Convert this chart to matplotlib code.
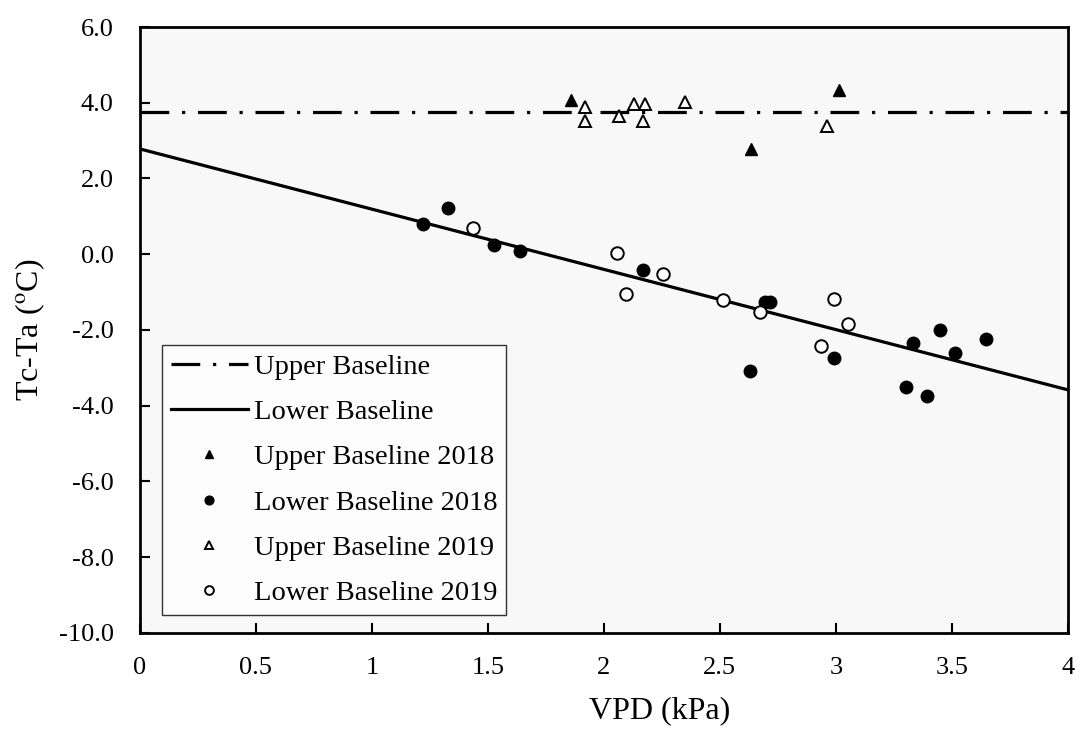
import numpy as np
import matplotlib
matplotlib.use("Agg")
from matplotlib import pyplot as plt

plt.rcParams['font.family'] = ['Liberation Serif', 'DejaVu Serif']
plt.rcParams['mathtext.fontset'] = 'stix'

# Upper baseline (non-transpiring) and lower baseline (well-watered) fits
upper_baseline = 3.75
lower_intercept = 2.78
lower_slope = -1.59

# 2018 observations
vpd_upper_2018 = [1.86, 3.015, 2.635]
dt_upper_2018 = [4.08, 4.33, 2.79]
vpd_lower_2018 = [1.22, 1.326, 1.528, 1.64, 2.167, 2.697, 2.715, 2.63, 2.993,
                  3.333, 3.448, 3.516, 3.648, 3.305, 3.394]
dt_lower_2018 = [0.79, 1.23, 0.24, 0.08, -0.42, -1.27, -1.27, -3.09, -2.73,
                 -2.34, -1.99, -2.60, -2.25, -3.50, -3.75]

# 2019 observations
vpd_upper_2019 = [1.917, 1.917, 2.064, 2.129, 2.179, 2.169, 2.349, 2.961]
dt_upper_2019 = [3.90, 3.51, 3.64, 3.96, 3.96, 3.51, 4.02, 3.38]
vpd_lower_2019 = [1.435, 2.056, 2.094, 2.255, 2.515, 2.672, 2.993, 3.053, 2.937]
dt_lower_2019 = [0.69, 0.02, -1.06, -0.53, -1.20, -1.52, -1.17, -1.85, -2.43]

x_ticks = [0, 0.5, 1, 1.5, 2, 2.5, 3, 3.5, 4]
x_tick_labels = ['0', '0.5', '1', '1.5', '2', '2.5', '3', '3.5', '4']
y_ticks = [-10, -8, -6, -4, -2, 0, 2, 4, 6]

fig = plt.figure(figsize=(10.8, 7.3), dpi=100)
ax = fig.add_axes([0.1296, 0.133, 0.859, 0.830])
ax.set_facecolor('#f8f8f8')

xl = np.array([0, 4])
ax.plot(xl, [upper_baseline, upper_baseline], color='black', lw=2.3,
        dashes=(9, 4, 1, 4), dash_capstyle='butt', label='Upper Baseline')
ax.plot(xl, lower_intercept + lower_slope * xl, color='black', lw=2.3,
        label='Lower Baseline')

ax.plot(vpd_upper_2018, dt_upper_2018, '^', color='black', ms=8.5,
        ls='none', label='Upper Baseline 2018')
ax.plot(vpd_lower_2018, dt_lower_2018, 'o', color='black', ms=9,
        ls='none', label='Lower Baseline 2018')
ax.plot(vpd_upper_2019, dt_upper_2019, '^', mfc='white', mec='black', mew=1.4,
        ms=8.5, ls='none', label='Upper Baseline 2019')
ax.plot(vpd_lower_2019, dt_lower_2019, 'o', mfc='white', mec='black', mew=1.4,
        ms=9, ls='none', label='Lower Baseline 2019')

ax.set_xlim(0, 4)
ax.set_ylim(-10, 6)
ax.set_xticks(x_ticks)
ax.set_xticklabels(x_tick_labels)
ax.set_yticks(y_ticks)
ax.set_yticklabels(['%.1f' % v for v in y_ticks])
ax.tick_params(direction='in', length=7, width=1.5, labelsize=19)
ax.tick_params(axis='x', pad=17)
ax.tick_params(axis='y', pad=19)
for s in ax.spines.values():
    s.set_linewidth(2)

ax.set_xlabel('VPD (kPa)', fontsize=23)
ax.xaxis.set_label_coords(0.56, -0.105)
ax.set_ylabel(r'Tc-Ta ($^{\mathrm{o}}$C)', fontsize=23, labelpad=8)

leg = ax.legend(loc='lower left', bbox_to_anchor=(0.024, 0.03),
                borderaxespad=0, fontsize=20.5,
                frameon=True, fancybox=False, edgecolor='black',
                handlelength=2.7, handletextpad=0.22, markerscale=0.7,
                labelspacing=0.68, borderpad=0.3)
leg.get_frame().set_linewidth(1.0)
leg.get_frame().set_facecolor('white')

plt.savefig('out.png', dpi=100)
